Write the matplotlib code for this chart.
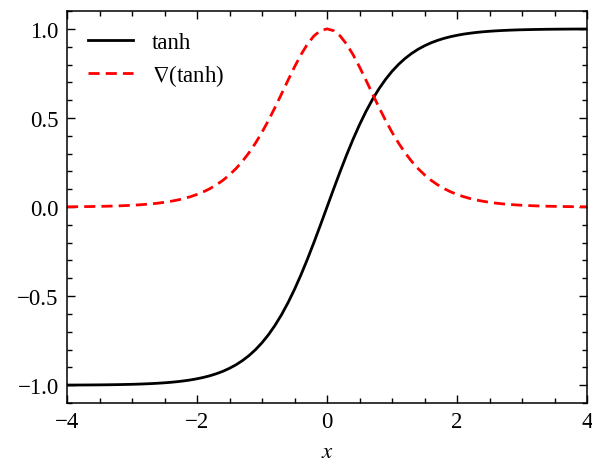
import matplotlib
matplotlib.use("Agg")
import matplotlib.pyplot as plt
from matplotlib.ticker import MultipleLocator
import numpy as np

plt.rcParams["font.family"] = ["Liberation Serif", "DejaVu Serif"]
plt.rcParams["mathtext.fontset"] = "stix"
plt.rcParams["font.size"] = 16.5

# values for x >= 0 (step 0.1); tanh is odd, its gradient even
x_half = [round(0.1 * i, 1) for i in range(41)]
tanh_half = [0.0, 0.0997, 0.1974, 0.2913, 0.3799, 0.4621, 0.5370, 0.6044, 0.6640,
             0.7163, 0.7616, 0.8005, 0.8337, 0.8617, 0.8854, 0.9051, 0.9217,
             0.9354, 0.9468, 0.9562, 0.9640, 0.9705, 0.9757, 0.9801, 0.9837,
             0.9866, 0.9890, 0.9910, 0.9926, 0.9940, 0.9951, 0.9959, 0.9967,
             0.9973, 0.9978, 0.9982, 0.9985, 0.9988, 0.9990, 0.9992, 0.9993]
grad_half = [1.0, 0.9901, 0.9610, 0.9151, 0.8556, 0.7864, 0.7116, 0.6347, 0.5591,
             0.4869, 0.4200, 0.3592, 0.3050, 0.2574, 0.2161, 0.1807, 0.1505,
             0.1251, 0.1036, 0.0857, 0.0707, 0.0582, 0.0479, 0.0394, 0.0324,
             0.0266, 0.0218, 0.0179, 0.0148, 0.0121, 0.0099, 0.0082, 0.0067,
             0.0055, 0.0045, 0.0037, 0.0030, 0.0025, 0.0020, 0.0017, 0.0013]

x = np.concatenate([-np.array(x_half[:0:-1]), x_half])
tanh = np.concatenate([-np.array(tanh_half[:0:-1]), tanh_half])
grad = np.concatenate([np.array(grad_half[:0:-1]), grad_half])

fig = plt.figure(figsize=(5.92, 4.64), dpi=100)
ax = fig.add_axes([0.1132, 0.1293, 0.8784, 0.8447])

ax.plot(x, tanh, color="black", lw=2.0, label="tanh")
ax.plot(x, grad, color="red", lw=2.0, ls=(0, (4, 2.2)), label=r"$\nabla$(tanh)")

ax.set_xlim(-4, 4)
ax.set_ylim(-1.1, 1.1)
ax.xaxis.set_major_locator(MultipleLocator(2))
ax.xaxis.set_minor_locator(MultipleLocator(0.5))
ax.yaxis.set_major_locator(MultipleLocator(0.5))
ax.yaxis.set_minor_locator(MultipleLocator(0.1))
ax.tick_params(which="both", direction="in", top=True, right=True, width=1.0, pad=6)
ax.tick_params(which="major", length=6)
ax.tick_params(which="minor", length=3.5)
for s in ax.spines.values():
    s.set_linewidth(1.1)

ax.set_xlabel("$x$", labelpad=6)
ax.legend(loc="upper left", frameon=False, handlelength=2.0, handletextpad=0.8,
          labelspacing=0.4, borderaxespad=0.5)

fig.savefig("out.png", dpi=100)
